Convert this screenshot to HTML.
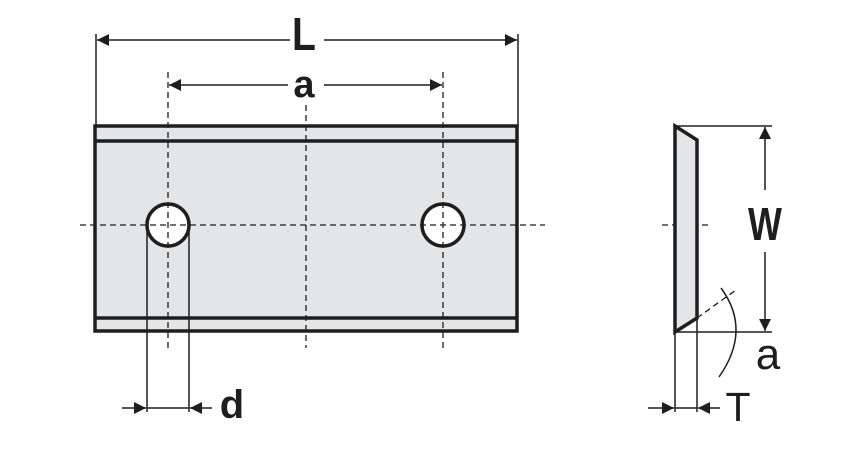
<!DOCTYPE html>
<html><head><style>
html,body{margin:0;padding:0;background:#fff;width:858px;height:460px;overflow:hidden}
svg text{font-family:"Liberation Sans",sans-serif;fill:#1e1e1e}
</style></head><body>
<svg width="858" height="460" viewBox="0 0 858 460" xmlns="http://www.w3.org/2000/svg">
<defs>
<marker id="ar" viewBox="0 0 10 10" refX="10" refY="5" markerWidth="12" markerHeight="12" markerUnits="userSpaceOnUse" orient="auto"><path d="M0,0 L10,5 L0,10 z" fill="#1e1e1e"/></marker>
</defs>
<g stroke="#1e1e1e" fill="none">
<rect x="95" y="126" width="422" height="205" fill="#e4e5e7" stroke-width="3.5"/>
<line x1="95" y1="141" x2="517" y2="141" stroke-width="3.5"/>
<line x1="95" y1="318" x2="517" y2="318" stroke-width="3.5"/>
<circle cx="168" cy="225" r="21" fill="#fff" stroke-width="3.5"/>
<circle cx="443" cy="225" r="21" fill="#fff" stroke-width="3.5"/>
<g stroke-width="1.3" stroke-dasharray="6,4">
<line x1="80" y1="225" x2="545" y2="225"/>
<line x1="168" y1="72" x2="168" y2="348"/>
<line x1="443" y1="72" x2="443" y2="348"/>
<line x1="306" y1="105" x2="306" y2="348"/>
<line x1="662" y1="225" x2="710" y2="225"/>
<line x1="697" y1="318" x2="736" y2="290"/>
</g>
<g stroke-width="1.5">
<line x1="96" y1="34" x2="96" y2="126"/>
<line x1="518" y1="34" x2="518" y2="126"/>
<line x1="147" y1="225" x2="147" y2="412"/>
<line x1="189" y1="225" x2="189" y2="412"/>
<line x1="290" y1="40" x2="97" y2="40" marker-end="url(#ar)"/>
<line x1="324" y1="40" x2="517" y2="40" marker-end="url(#ar)"/>
<line x1="288" y1="85" x2="169" y2="85" marker-end="url(#ar)"/>
<line x1="324" y1="85" x2="442" y2="85" marker-end="url(#ar)"/>
<line x1="122" y1="408" x2="146" y2="408" marker-end="url(#ar)"/>
<line x1="147" y1="408" x2="189" y2="408"/>
<line x1="212" y1="408" x2="190" y2="408" marker-end="url(#ar)"/>
<line x1="675" y1="126" x2="772" y2="126"/>
<line x1="675" y1="332" x2="772" y2="332"/>
<line x1="675" y1="332" x2="675" y2="412"/>
<line x1="697" y1="318" x2="697" y2="412"/>
<line x1="765" y1="190" x2="765" y2="127" marker-end="url(#ar)"/>
<line x1="765" y1="252" x2="765" y2="331" marker-end="url(#ar)"/>
<line x1="648" y1="408" x2="674" y2="408" marker-end="url(#ar)"/>
<line x1="675" y1="408" x2="697" y2="408"/>
<line x1="720" y1="408" x2="698" y2="408" marker-end="url(#ar)"/>
<path d="M721,288 Q752,330 719,377"/>
</g>
<path d="M675,126 L697,140 L697,318 L675,332 Z" fill="#e4e5e7" stroke-width="3.5"/>
</g>
<g font-weight="bold">
<text x="304" y="50" font-size="46" text-anchor="middle" transform="translate(304 0) scale(0.85 1) translate(-304 0)">L</text>
<text x="304" y="97" font-size="38" text-anchor="middle">a</text>
<text x="232" y="418" font-size="40" text-anchor="middle">d</text>
<text x="765" y="240" font-size="46" text-anchor="middle" transform="translate(765 0) scale(0.78 1) translate(-765 0)">W</text>
</g>
<text x="768" y="369" font-size="44" text-anchor="middle">a</text>
<text x="738" y="421" font-size="41" text-anchor="middle">T</text>
</svg>
</body></html>
